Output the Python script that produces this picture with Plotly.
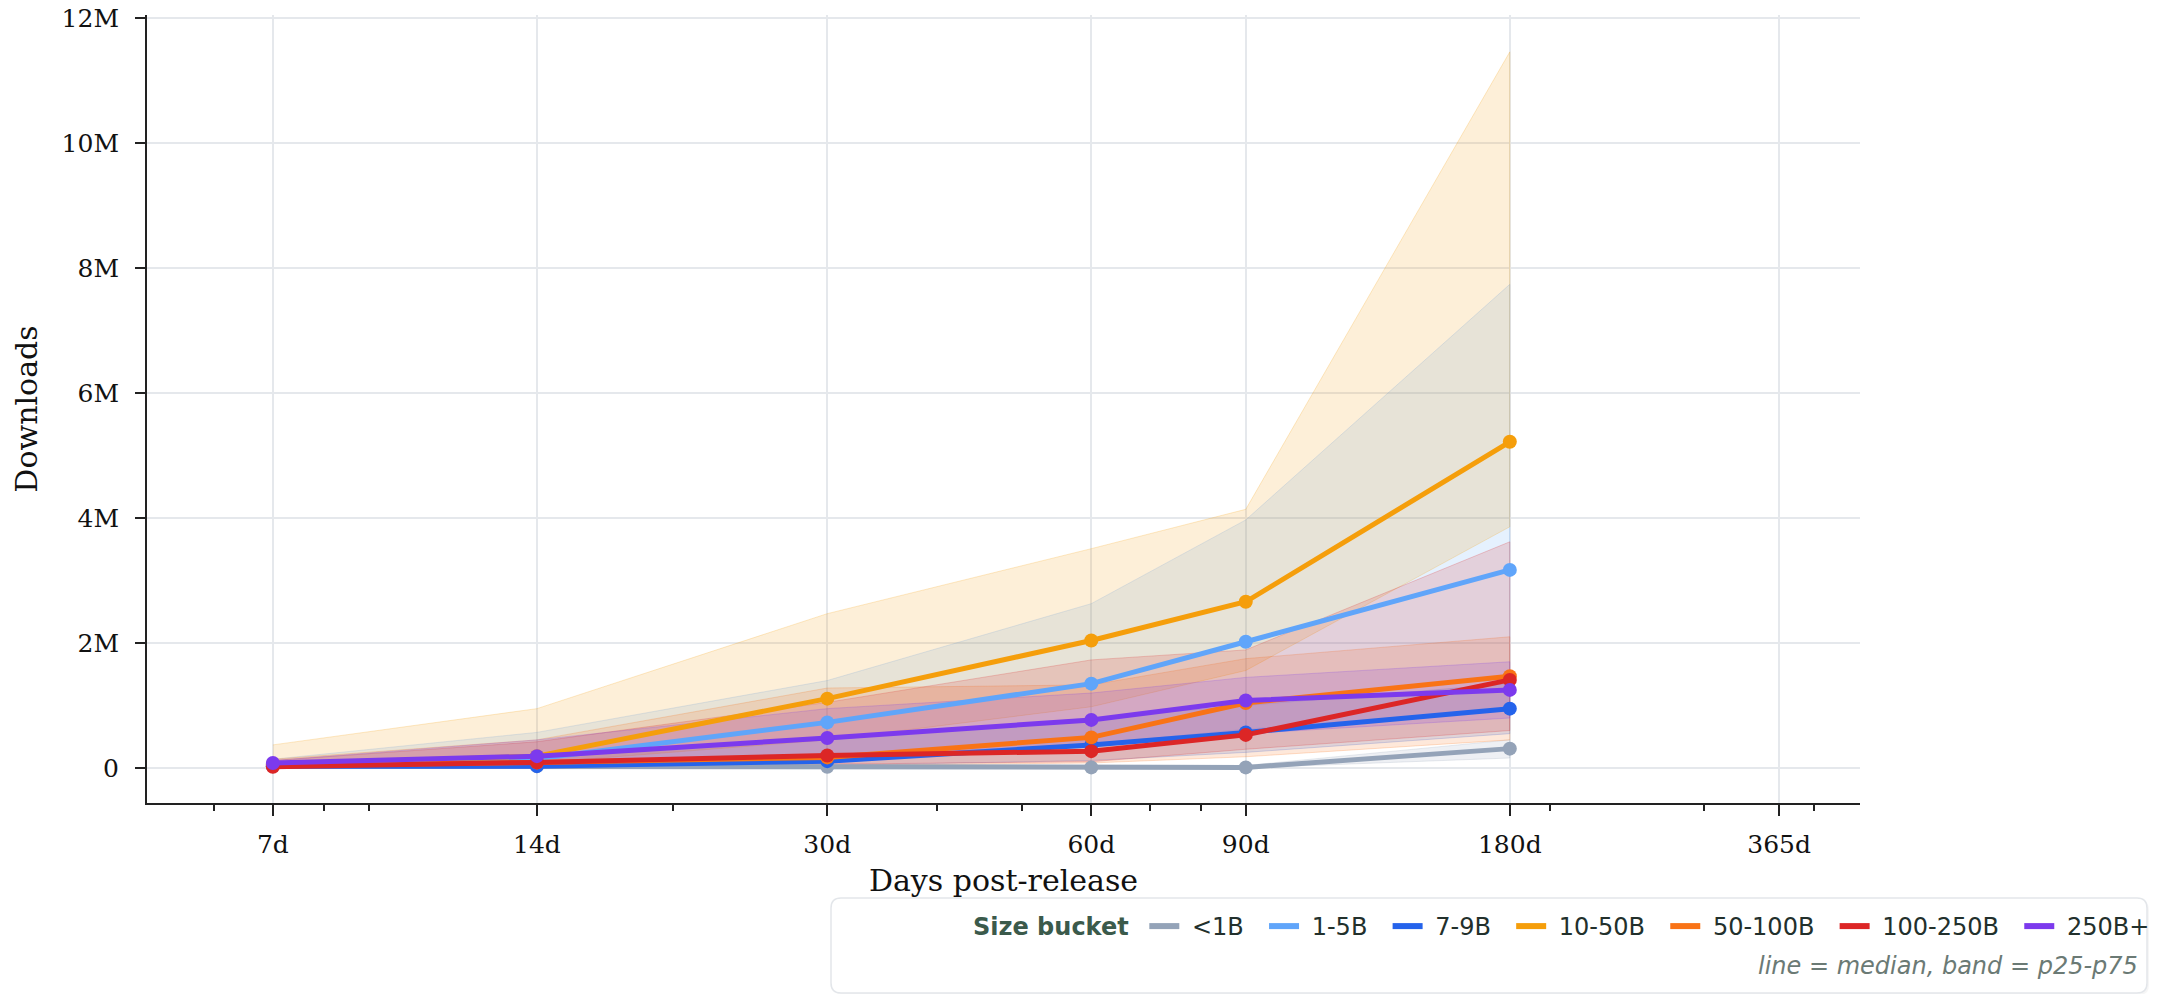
import plotly.graph_objects as go

# ---------------- data ----------------
days = [7, 14, 30, 60, 90, 180]
x_tick_vals = [7, 14, 30, 60, 90, 180, 365]
x_tick_text = ["7d", "14d", "30d", "60d", "90d", "180d", "365d"]
x_minor_vals = [6, 8, 9, 20, 40, 50, 70, 80, 200, 300, 400]
y_tick_vals = [0, 2e6, 4e6, 6e6, 8e6, 10e6, 12e6]
y_tick_text = ["0", "2M", "4M", "6M", "8M", "10M", "12M"]

buckets = ["<1B", "1-5B", "7-9B", "10-50B", "50-100B", "100-250B", "250B+"]
colors = ["#94a3b8", "#60a5fa", "#2563eb", "#f59e0b", "#f97316", "#dc2626", "#7c3aed"]

# medians (millions)
med_lt1 = [0.03, 0.03, 0.02, 0.01, 0.01, 0.31]
med_1_5 = [0.05, 0.15, 0.73, 1.35, 2.02, 3.17]
med_7_9 = [0.03, 0.03, 0.11, 0.37, 0.57, 0.95]
med_10_50 = [0.06, 0.19, 1.11, 2.04, 2.66, 5.22]
med_50_100 = [0.04, 0.09, 0.17, 0.49, 1.04, 1.47]
med_100_250 = [0.02, 0.09, 0.20, 0.27, 0.53, 1.41]
med_250p = [0.08, 0.19, 0.48, 0.77, 1.08, 1.25]

# p25 (millions)
p25_lt1 = [0.005, 0.005, 0.005, 0.002, 0.002, 0.16]
p25_1_5 = [0.01, 0.04, 0.18, 0.38, 0.62, 0.95]
p25_7_9 = [0.01, 0.01, 0.04, 0.12, 0.25, 0.55]
p25_10_50 = [0.02, 0.08, 0.45, 0.98, 1.56, 3.86]
p25_50_100 = [0.01, 0.02, 0.04, 0.08, 0.18, 0.45]
p25_100_250 = [0.005, 0.02, 0.06, 0.10, 0.30, 0.60]
p25_250p = [0.03, 0.08, 0.20, 0.35, 0.55, 0.80]

# p75 (millions)
p75_lt1 = [0.06, 0.08, 0.06, 0.04, 0.04, 0.45]
p75_1_5 = [0.14, 0.57, 1.40, 2.63, 3.97, 7.74]
p75_7_9 = [0.08, 0.22, 0.45, 0.80, 1.00, 1.35]
p75_10_50 = [0.37, 0.95, 2.47, 3.51, 4.14, 11.46]
p75_50_100 = [0.14, 0.45, 1.28, 1.33, 1.75, 2.10]
p75_100_250 = [0.12, 0.42, 1.05, 1.73, 1.89, 3.62]
p75_250p = [0.12, 0.45, 0.95, 1.20, 1.45, 1.70]

medians = [med_lt1, med_1_5, med_7_9, med_10_50, med_50_100, med_100_250, med_250p]
p25s = [p25_lt1, p25_1_5, p25_7_9, p25_10_50, p25_50_100, p25_100_250, p25_250p]
p75s = [p75_lt1, p75_1_5, p75_7_9, p75_10_50, p75_50_100, p75_100_250, p75_250p]

legend_title = "Size bucket"
note_text = "line = median, band = p25-p75"
x_title = "Days post-release"
y_title = "Downloads"


def rgba(hexc, a):
    h = hexc.lstrip("#")
    r, g, b = int(h[0:2], 16), int(h[2:4], 16), int(h[4:6], 16)
    return f"rgba({r},{g},{b},{a})"


M = 1e6
fig = go.Figure()

# bands
for name, c, lo, hi in zip(buckets, colors, p25s, p75s):
    fig.add_trace(go.Scatter(
        x=days + days[::-1],
        y=[v * M for v in hi] + [v * M for v in lo[::-1]],
        fill="toself", fillcolor=rgba(c, 0.16),
        line=dict(color=rgba(c, 0.22), width=1),
        mode="lines", hoverinfo="skip", showlegend=False,
    ))

# median lines
for name, c, med in zip(buckets, colors, medians):
    fig.add_trace(go.Scatter(
        x=days, y=[v * M for v in med], mode="lines+markers", name=name,
        line=dict(color=c, width=5), marker=dict(color=c, size=14),
        showlegend=False,
    ))

# legend entries (line only); non-breaking spaces widen the gaps between entries
for i, (name, c) in enumerate(zip(buckets, colors)):
    label = "\u00a0" + name + ("\u00a0\u00a0" if i < len(buckets) - 1 else "")
    fig.add_trace(go.Scatter(
        x=[None], y=[None], mode="lines", name=label,
        line=dict(color=c, width=6), showlegend=True,
    ))

# page geometry (body margin removed in the page, see post_script)
W, H = 2161, 994
PL, PR, PT, PB = 147, 1860, 15, 803      # plot area in px
L, T = PL, PT
R, B = W - PR, H - PB
PW, PH = PR - PL, PB - PT


def px(xp):
    return (xp - PL) / PW


def py(yp):
    return (PB - yp) / PH


# rounded legend box
x0, x1, y0, y1 = px(831), px(2147), py(898), py(993)
rx, ry = 10 / PW, 10 / PH


def rrect(x0, x1, y0, y1):
    return (f"M{x0+rx},{y0} L{x1-rx},{y0} Q{x1},{y0} {x1},{y0-ry} "
            f"L{x1},{y1+ry} Q{x1},{y1} {x1-rx},{y1} L{x0+rx},{y1} "
            f"Q{x0},{y1} {x0},{y1+ry} L{x0},{y0-ry} Q{x0},{y0} {x0+rx},{y0} Z")


sx, sy = 2 / PW, 2 / PH
fig.add_shape(type="path", xref="paper", yref="paper",
              path=rrect(x0 + sx, x1 + sx, y0 - sy, y1 - sy),
              fillcolor="rgba(0,0,0,0.035)", line=dict(width=0), layer="below")
fig.add_shape(type="path", xref="paper", yref="paper",
              path=rrect(x0, x1, y0, y1),
              fillcolor="white", line=dict(color="#e3e6ea", width=1.5), layer="below")

fig.add_annotation(xref="paper", yref="paper", x=px(2140), y=py(966),
                   xanchor="right", yanchor="middle", showarrow=False,
                   text=f"<i>{note_text}</i>",
                   font=dict(family="DejaVu Sans", size=24, color="#6b7a75"))

fig.update_layout(
    width=W, height=H,
    margin=dict(l=L, r=R, t=T, b=B, autoexpand=False),
    paper_bgcolor="white", plot_bgcolor="white",
    font=dict(family="DejaVu Serif", size=25, color="#111111"),
    showlegend=True,
    legend=dict(
        orientation="h", xanchor="right", yanchor="middle",
        x=px(2155), y=py(926.5),
        bgcolor="rgba(0,0,0,0)", borderwidth=0,
        font=dict(family="DejaVu Sans", size=24, color="#22302c"),
        title=dict(text=f"<b>{legend_title}</b>\u00a0", side="left",
                   font=dict(family="DejaVu Sans", size=24, color="#3b5a4b")),
        itemwidth=30, tracegroupgap=0,
    ),
    xaxis=dict(
        type="log", range=[0.7016, 2.6545], automargin=False,
        tickvals=x_tick_vals, ticktext=x_tick_text,
        ticks="outside", ticklen=11, tickwidth=1.5, tickcolor="#222222",
        ticklabelstandoff=7, ticklabeloverflow="allow",
        showline=True, linecolor="#222222", linewidth=2,
        showgrid=True, gridcolor="#e5e8ec", gridwidth=1.5,
        zeroline=False,
        minor=dict(tickmode="array", tickvals=x_minor_vals, ticks="outside",
                   ticklen=6, tickwidth=1.5, tickcolor="#222222", showgrid=False),
        title=dict(text=x_title, standoff=12,
                   font=dict(family="DejaVu Serif", size=30, color="#111111")),
        tickfont=dict(family="DejaVu Serif", size=25, color="#111111"),
    ),
    yaxis=dict(
        range=[-0.56e6, 12.05e6], automargin=False,
        tickvals=y_tick_vals, ticktext=y_tick_text,
        ticks="outside", ticklen=10, tickwidth=1.5, tickcolor="#222222",
        ticklabelstandoff=11, ticklabeloverflow="allow",
        showline=True, linecolor="#222222", linewidth=2,
        showgrid=True, gridcolor="#e5e8ec", gridwidth=1.5,
        zeroline=False,
        title=dict(text=y_title, standoff=15,
                   font=dict(family="DejaVu Serif", size=30, color="#111111")),
        tickfont=dict(family="DejaVu Serif", size=25, color="#111111"),
    ),
)

fig.write_html(
    "out.html",
    config={"displayModeBar": False},
    post_script="document.body.style.margin='0px';document.body.style.overflow='hidden';",
)
